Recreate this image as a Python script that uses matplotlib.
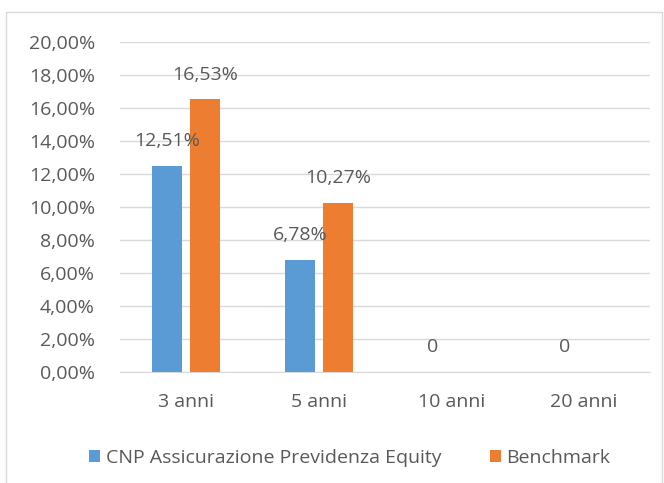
import matplotlib.pyplot as plt
import matplotlib.patches as mpatches
import numpy as np

# dati del grafico
categorie = ["3 anni", "5 anni", "10 anni", "20 anni"]
fondo = [12.51, 6.78, 0, 0]
benchmark = [16.53, 10.27, None, None]
etichette_fondo = ["12,51%", "6,78%", "0", "0"]
etichette_bench = ["16,53%", "10,27%", "", ""]
tick_y = [0, 2, 4, 6, 8, 10, 12, 14, 16, 18, 20]

plt.rcParams['font.family'] = ['Open Sans', 'DejaVu Sans']
grigio = "#595959"
blu = "#5B9BD5"
arancio = "#ED7D31"
fs = 14

fig = plt.figure(figsize=(6.64, 4.83), dpi=100)
# cornice esterna come in Excel
fig.patches.append(mpatches.Rectangle((6 / 664, -0.01), 656 / 664, 1 - 12 / 483 + 0.01,
                                      transform=fig.transFigure, fill=False,
                                      edgecolor="#D9D9D9", linewidth=1))
ax = fig.add_axes([120 / 664, 1 - 372 / 483, 530 / 664, 330 / 483])

x = np.arange(len(categorie))
w = 0.226
off = 0.143
bench_val = [v if v is not None else 0 for v in benchmark]
ax.bar(x - off, fondo, w, color=blu, zorder=3, label="CNP Assicurazione Previdenza Equity")
ax.bar(x + off, bench_val, w, color=arancio, zorder=3, label="Benchmark")

for i in range(len(categorie)):
    ax.text(x[i] - off, fondo[i] + 1.5, etichette_fondo[i], ha="center", va="center",
            fontsize=fs, color=grigio, zorder=4)
    if etichette_bench[i]:
        ax.text(x[i] + off, bench_val[i] + 1.5, etichette_bench[i], ha="center", va="center",
                fontsize=fs, color=grigio, zorder=4)

ax.set_xlim(-0.5, len(categorie) - 0.5)
ax.set_ylim(0, 20)
ax.set_yticks(tick_y)
ax.set_yticklabels([f"{t:.2f}%".replace(".", ",") for t in tick_y])
ax.set_xticks(x)
ax.set_xticklabels(categorie)
ax.tick_params(axis="both", length=0, labelsize=fs, labelcolor=grigio)
ax.tick_params(axis="x", pad=15)
ax.tick_params(axis="y", pad=18)
ax.yaxis.grid(True, color="#D9D9D9", linewidth=1, zorder=0)
for s in ["top", "right", "left"]:
    ax.spines[s].set_visible(False)
ax.spines["bottom"].set_color("#D9D9D9")
ax.spines["bottom"].set_zorder(2)

fig.legend(loc="center", bbox_to_anchor=(350 / 664, 1 - 458 / 483), ncol=2, frameon=False,
           fontsize=fs, labelcolor=grigio, handlelength=0.55, handleheight=0.55,
           handletextpad=0.3, columnspacing=2.5)

fig.savefig("out.png", dpi=100)
